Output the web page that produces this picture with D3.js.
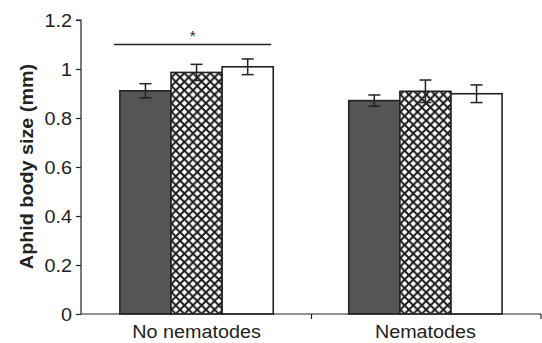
<!DOCTYPE html>
<html><head><meta charset="utf-8">
<script src="https://cdn.jsdelivr.net/npm/d3@7"></script>
<style>body{margin:0;background:#fff}svg{display:block}</style>
</head><body>
<script>
const categories = ["No nematodes", "Nematodes"];
const series = ["dark", "hatched", "white"];
const means = [[0.911, 0.986, 1.009], [0.871, 0.909, 0.899]];
const errors = [[0.029, 0.033, 0.032], [0.023, 0.046, 0.036]];
const yTicks = [0, 0.2, 0.4, 0.6, 0.8, 1, 1.2];
const yTickLabels = ["0", "0.2", "0.4", "0.6", "0.8", "1", "1.2"];
const yLabel = "Aphid body size (mm)";
const sigMark = "*";

(function () {
const W = 542, H = 343;
const svg = d3.select("body").append("svg").attr("width", W).attr("height", H);
const pL = 81, pR = 541, pT = 20, pB = 314;
const FS = 17.5, SX = 1.13;
const ink = "#222";

const P = 8.6;
const defs = svg.append("defs");
const pat = defs.append("pattern").attr("id", "hatch").attr("patternUnits", "userSpaceOnUse")
  .attr("width", P).attr("height", P).attr("x", 0).attr("y", 0);
pat.append("rect").attr("width", P).attr("height", P).attr("fill", "#fff");
pat.append("path").attr("d", `M-2,-2L${P + 2},${P + 2}M-2,${P + 2}L${P + 2},-2`)
  .attr("stroke", "#1a1a1a").attr("stroke-width", 2).attr("fill", "none");

const y = d3.scaleLinear().domain([0, 1.2]).range([pB, pT]);
const x0 = d3.scaleBand().domain(categories).range([pL, pR]).paddingInner(0.33).paddingOuter(0.17);
const x1 = d3.scaleBand().domain(series).range([0, x0.bandwidth()]);
const fills = {dark: "#555557", hatched: "url(#hatch)", white: "#fff"};

categories.forEach((c, ci) => {
  const g = svg.append("g").attr("transform", `translate(${x0(c)},0)`);
  series.forEach((s, si) => {
    const v = means[ci][si], e = errors[ci][si];
    g.append("rect").attr("x", x1(s)).attr("y", y(v)).attr("width", x1.bandwidth())
      .attr("height", y(0) - y(v)).attr("fill", fills[s]).attr("stroke", ink).attr("stroke-width", 1.6);
    const cx = x1(s) + x1.bandwidth() / 2;
    const eg = g.append("g").attr("stroke", ink).attr("stroke-width", 1.5);
    eg.append("line").attr("x1", cx).attr("x2", cx).attr("y1", y(v + e)).attr("y2", y(v - e));
    [v + e, v - e].forEach(t => eg.append("line").attr("x1", cx - 6).attr("x2", cx + 6).attr("y1", y(t)).attr("y2", y(t)));
  });
});

const ya = svg.append("g").attr("transform", `translate(${pL},0)`)
  .call(d3.axisLeft(y).tickValues(yTicks).tickFormat((d, i) => yTickLabels[i]).tickSize(5).tickPadding(4));
ya.select(".domain").attr("stroke", ink).attr("stroke-width", 1.2).attr("d", `M-5,${pT}H0V${pB}`);
ya.selectAll(".tick line").attr("stroke", ink).attr("stroke-width", 1.2);
ya.selectAll(".tick text").attr("font-family", "Liberation Sans, Arial, sans-serif").attr("font-size", FS)
  .attr("fill", "#222").attr("dy", "0.36em")
  .attr("transform", function () { const xx = +d3.select(this).attr("x"); return `translate(${xx},0) scale(${SX},1) translate(${-xx},0)`; });

svg.append("line").attr("x1", pL).attr("x2", pR).attr("y1", pB).attr("y2", pB).attr("stroke", ink).attr("stroke-width", 1.2);
const mid = x0(categories[1]) - x0.step() * x0.paddingInner() / 2 + 0.5;
[mid, pR].forEach(b => svg.append("line").attr("x1", b).attr("x2", b).attr("y1", pB).attr("y2", pB + 5).attr("stroke", ink).attr("stroke-width", 1.2));
categories.forEach(c => {
  const cx = x0(c) + x0.bandwidth() / 2;
  svg.append("text").attr("x", 0).attr("y", 0)
    .attr("transform", `translate(${cx},338) scale(${SX},1)`)
    .attr("text-anchor", "middle").attr("font-family", "Liberation Sans, Arial, sans-serif")
    .attr("font-size", FS).attr("fill", "#222").text(c);
});

svg.append("text").attr("transform", `translate(33,${(pT + pB) / 2 - 0.5}) rotate(-90) scale(${SX},1)`)
  .attr("text-anchor", "middle").attr("font-family", "Liberation Sans, Arial, sans-serif")
  .attr("font-weight", "bold").attr("font-size", FS).attr("fill", "#222").text(yLabel);

const sx1 = x0(categories[0]) - 6, sx2 = x0(categories[0]) + x0.bandwidth() - 2;
svg.append("line").attr("x1", sx1).attr("x2", sx2).attr("y1", y(1.1)).attr("y2", y(1.1)).attr("stroke", ink).attr("stroke-width", 1.3);
svg.append("text").attr("x", (sx1 + sx2) / 2).attr("y", y(1.1) - 4).attr("text-anchor", "middle")
  .attr("font-family", "Liberation Sans, Arial, sans-serif").attr("font-size", 15).attr("fill", "#222").text(sigMark);
})();
</script>
</body></html>
